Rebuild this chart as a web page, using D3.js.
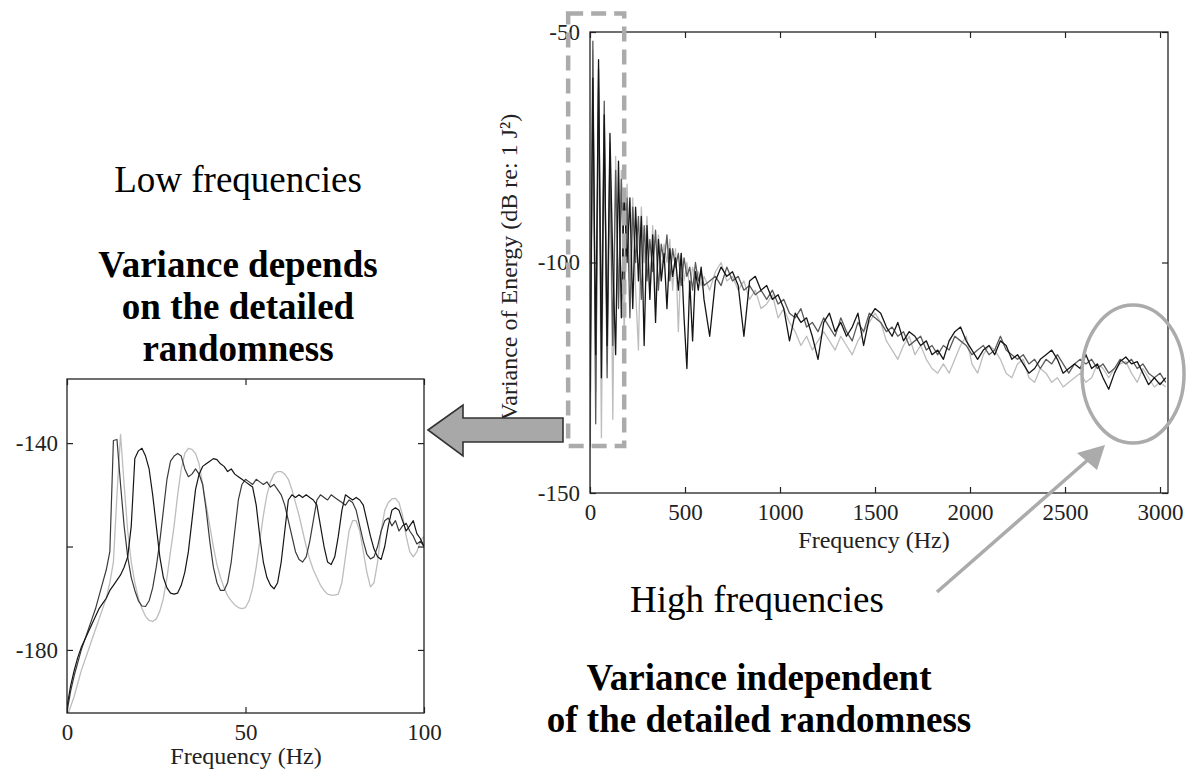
<!DOCTYPE html>
<html>
<head>
<meta charset="utf-8">
<script src="https://cdn.jsdelivr.net/npm/d3@7"></script>
<style>
  body { margin: 0; background: #fff; }
  svg text { font-family: "Liberation Serif", "Times New Roman", serif; }
</style>
</head>
<body>
<svg id="fig" width="1191" height="769"></svg>
<script>
// ---- data: wide band spectrum (0 - 3040 Hz), three realisations ----
var bandLow = d3.range(0, 601, 15),      // 0..600 Hz sampling
    bandHigh = d3.range(630, 3031, 30);  // 630..3030 Hz sampling
var wideHz = bandLow.concat(bandHigh);

var wideBlack = [-128,-60,-120,-56,-125,-68,-118,-72,-100,-120,-78,-112,-84,-100,-86,-110,-88,-104,-90,-118,
  -92,-108,-94,-113,-95,-104,-98,-110,-97,-103,-99,-106,-98,-112,-123,-104,-117,-102,-106,-101,-108,
  -116,-104,-101,-103,-102,-105,-116,-104,-103,-106,
  -105,-108,-107,-110,-117,-111,-113,-112,-116,-121,
  -113,-111,-115,-113,-116,-114,-111,-118,-112,-110,
  -111,-114,-116,-113,-117,-115,-116,-118,-117,-120,
  -119,-121,-117,-115,-114,-117,-119,-121,-119,-118,
  -120,-117,-118,-121,-120,-122,-124,-123,-121,-120,
  -119,-121,-124,-123,-122,-123,-120,-123,-122,-125,
  -127.5,-124,-121.5,-120.5,-122,-121.5,-124,-126.5,-125,-126.5,-125];

var wideDark = [-140,-52,-135,-58,-115,-65,-125,-76,-118,-80,-110,-82,-105,-86,-112,-88,-100,-90,-108,-92,
  -104,-95,-102,-93,-106,-96,-100,-94,-104,-97,-101,-98,-105,-99,-103,-101,-106,-100,-104,-102,-105,
  -104,-103,-105,-101,-104,-103,-106,-105,-107,-106,
  -108,-106,-109,-108,-111,-112,-110,-114,-113,-115,
  -112,-114,-116,-112,-115,-117,-113,-115,-111,-112,
  -113,-115,-114,-116,-115,-118,-117,-116,-119,-118,
  -120,-118,-119,-116,-117,-118,-120,-119,-118,-120,
  -119,-116,-119,-120,-121,-120,-122,-121,-123,-121,
  -122,-120,-122,-124,-122,-121,-122,-121,-123,-122,
  -124,-123,-121,-122,-121,-123,-122,-124,-125,-124,-126];

var wideLight = [-150,-54,-128,-62,-138,-70,-122,-74,-134,-77,-108,-80,-116,-83,-104,-86,-106,-119,-88,-100,
  -90,-108,-92,-110,-94,-102,-96,-100,-95,-106,-97,-115,-98,-104,-100,-106,-101,-103,-102,-105,-103,
  -106,-102,-100,-104,-103,-106,-104,-108,-106,-110,
  -109,-107,-112,-110,-113,-115,-118,-116,-119,-117,
  -115,-117,-119,-116,-118,-120,-117,-115,-113,-111,
  -113,-117,-119,-121,-118,-116,-120,-118,-121,-123,
  -124,-122,-124,-121,-118,-116,-122,-124,-120,-118,
  -119,-121,-124,-125,-122,-121,-125,-126,-123,-124,
  -126,-125,-127,-126,-125,-124,-126,-125,-122,-123,
  -125,-123,-122,-121.5,-124,-126,-123,-125,-127,-126,-127];

// ---- data: zoom on 0 - 100 Hz ----
var zoomHz = d3.range(0, 101, 1);

var zoomDark = [-192,-188,-185,-182.5,-180,-178,-176,-174,-172,-169.5,-167,-164.5,-161,-139.5,-139.3,-148,-156,-162,-166,-168.5,
  -170.5,-171.5,-171.6,-170.5,-168,-164,-159,-153,-147,-143.5,-142.5,-142,-142.5,-145,-146.5,-146,-145,-146,-148,-153,
  -159,-164,-167,-168.5,-168.5,-167,-163,-157,-151,-148,-147,-147.5,-148,-147,-147.5,-148,-147.5,-148.5,-148,-149,
  -150,-152,-155,-158,-161,-162.5,-163,-162,-159,-155,-151,-150,-150.5,-151,-150,-150.5,-151,-151.5,-152,-151,
  -151.5,-153,-156,-159,-161.5,-162.4,-162,-160,-157,-155,-154.5,-156,-155,-157,-156,-155.5,-157,-158,-159.5,-159,-160];

var zoomBlack = [-191,-187,-184,-181.5,-179.5,-178,-176.5,-175,-173.5,-172,-171,-170,-168.5,-167.5,-166.5,-165.5,-164,-162,-156,-143,
  -141.5,-141,-142.5,-145,-150,-156,-162,-166,-168,-169,-169.2,-169,-167.5,-165,-161,-155,-149,-146,-144.5,-144,
  -143.5,-143,-143.2,-144,-144.5,-145.5,-145,-146,-146.5,-147,-147.5,-148,-148.5,-152,-158,-163,-166,-167.5,-168.2,-167,
  -163,-157,-151,-150,-150.5,-150,-150.5,-150,-150.5,-151,-152,-156,-160,-163,-163.5,-162,-158,-153,-150,-150.5,
  -151,-150.5,-151,-152,-155,-158,-160.5,-162,-162.5,-160,-156,-153,-152.5,-153,-155,-157,-156,-155,-157.5,-158.5,-160];

var zoomLight = [-193,-191,-189,-186.5,-184,-182,-180,-178,-176,-174,-172,-170,-167,-163,-150,-138.3,-148,-157,-163,-167,
  -170,-172,-173.5,-174.3,-174.5,-174,-172.5,-170,-166,-161,-156,-150,-145,-142,-141,-141.2,-142,-144,-148,-152,
  -156,-160,-163.5,-166,-168,-169.5,-170.5,-171.3,-171.8,-172,-171.8,-170.5,-168,-164,-159,-154,-150,-147.5,-146,-145.5,
  -145.5,-146,-147,-149,-151.5,-154,-157,-160,-162.5,-164.5,-166,-167.5,-168.5,-169.2,-169.4,-169.4,-169.2,-167,-162,-157,
  -155,-155,-157,-161,-165,-167.8,-167,-163,-157,-153,-151.5,-150.8,-150.7,-151.5,-154,-158,-161,-162,-161,-159,-158];

var wideXTicks = [0, 500, 1000, 1500, 2000, 2500, 3000],
    wideYTicks = [-150, -100, -50],
    zoomXTicks = [0, 50, 100],
    zoomYTicks = [-180, -160, -140],
    zoomYLabels = [-180, -140];

var seriesColors = { black: "#151515", dark: "#5a5a5a", light: "#bdbdbd" };

var svg = d3.select("#fig");

// scales
var xR = d3.scaleLinear().domain([0, 3042]).range([590, 1168]),
    yR = d3.scaleLinear().domain([-150, -50]).range([493, 32]),
    xL = d3.scaleLinear().domain([0, 100]).range([67, 424]),
    yL = d3.scaleLinear().domain([-192.2, -127.6]).range([713, 379]);

// plain hyphen minus, like the original figure
function num(d) { return String(d); }

function panel(id, x, y, hz, series, xTicks, yTicks, yLabels, fs, pad) {
  var g = svg.append("g").attr("class", id);
  var x0 = x.range()[0], x1 = x.range()[1], y0 = y.range()[1], y1 = y.range()[0];

  g.append("clipPath").attr("id", id + "-clip")
    .append("rect").attr("x", x0).attr("y", y0).attr("width", x1 - x0).attr("height", y1 - y0);

  var line = d3.line()
    .x(function(d) { return x(d[0]); })
    .y(function(d) { return y(d[1]); });

  series.forEach(function(s) {
    g.append("path")
      .datum(hz.map(function(f, i) { return [f, s.values[i]]; }))
      .attr("clip-path", "url(#" + id + "-clip)")
      .attr("fill", "none")
      .attr("stroke", s.color)
      .attr("stroke-width", s.width)
      .attr("stroke-linejoin", "round")
      .attr("d", line);
  });

  g.append("rect")
    .attr("x", x0).attr("y", y0).attr("width", x1 - x0).attr("height", y1 - y0)
    .attr("fill", "none").attr("stroke", "#222").attr("stroke-width", 1.3);

  var bottom = g.append("g").attr("transform", "translate(0," + y1 + ")")
    .call(d3.axisBottom(x).tickValues(xTicks).tickSizeInner(-6).tickSizeOuter(0).tickPadding(pad[0]).tickFormat(num));
  var left = g.append("g").attr("transform", "translate(" + x0 + ",0)")
    .call(d3.axisLeft(y).tickValues(yTicks).tickSizeInner(-6).tickSizeOuter(0).tickPadding(pad[1])
      .tickFormat(function(d) { return yLabels.indexOf(d) >= 0 ? num(d) : ""; }));
  var top = g.append("g").attr("transform", "translate(0," + y0 + ")")
    .call(d3.axisTop(x).tickValues(xTicks).tickSizeInner(-6).tickSizeOuter(0).tickFormat(""));
  var right = g.append("g").attr("transform", "translate(" + x1 + ",0)")
    .call(d3.axisRight(y).tickValues(yTicks).tickSizeInner(-6).tickSizeOuter(0).tickFormat(""));

  [bottom, left, top, right].forEach(function(a) {
    a.attr("font-family", null).attr("font-size", fs).attr("color", "#222");
    a.select(".domain").remove();
    a.selectAll("line").attr("stroke-width", 1.2);
  });
  return g;
}

panel("wide", xR, yR, wideHz, [
  { values: wideLight, color: seriesColors.light, width: 1.3 },
  { values: wideDark, color: seriesColors.dark, width: 1.3 },
  { values: wideBlack, color: seriesColors.black, width: 1.3 }
], wideXTicks, wideYTicks, wideYTicks, 23, [11, 10]);

panel("zoom", xL, yL, zoomHz, [
  { values: zoomLight, color: seriesColors.light, width: 1.3 },
  { values: zoomDark, color: "#3a3a3a", width: 1.2 },
  { values: zoomBlack, color: seriesColors.black, width: 1.2 }
], zoomXTicks, zoomYTicks, zoomYLabels, 23, [11, 9]);

// axis titles
svg.append("text").attr("x", 874).attr("y", 548).attr("text-anchor", "middle")
  .attr("font-size", 24).attr("fill", "#222").text("Frequency (Hz)");
svg.append("text").attr("x", 246).attr("y", 764).attr("text-anchor", "middle")
  .attr("font-size", 24).attr("fill", "#222").text("Frequency (Hz)");
svg.append("text")
  .attr("transform", "translate(517," + yR(-101) + ") rotate(-90)")
  .attr("text-anchor", "middle").attr("font-size", 24).attr("fill", "#222")
  .text("Variance of Energy (dB re: 1 J²)");

// annotations
var grey = "#ababab";
svg.append("rect")
  .attr("x", xR(-115)).attr("y", yR(-46)).attr("width", xR(180) - xR(-115)).attr("height", yR(-139.8) - yR(-46))
  .attr("fill", "none").attr("stroke", grey).attr("stroke-width", 4.5).attr("stroke-dasharray", "15,8");

svg.append("ellipse")
  .attr("cx", xR(2858)).attr("cy", yR(-124.2)).attr("rx", 51).attr("ry", 69)
  .attr("fill", "none").attr("stroke", grey).attr("stroke-width", 3.5);

// block arrow toward the zoom panel
svg.append("path")
  .attr("d", "M428,430 L463,405 L463,418 L563,418 L563,442 L463,442 L463,456 Z")
  .attr("fill", "#a8a8a8").attr("stroke", "#333").attr("stroke-width", 1.6);

// thin arrow to the ellipse
svg.append("line").attr("x1", 937).attr("y1", 592).attr("x2", 1090).attr("y2", 458)
  .attr("stroke", grey).attr("stroke-width", 3.5);
svg.append("path").attr("d", "M1105,445 L1097,470 L1077,453 Z").attr("fill", grey);

// captions
function caption(x, y, lines, weight) {
  var t = svg.append("text").attr("text-anchor", "middle").attr("font-size", 37)
    .attr("font-weight", weight).attr("fill", "#000");
  lines.forEach(function(s, i) {
    t.append("tspan").attr("x", x).attr("y", y + i * 42).text(s);
  });
}
caption(238, 192, ["Low frequencies"], "normal");
caption(238, 277, ["Variance depends", "on the detailed", "randomness"], "bold");
caption(757, 612, ["High frequencies"], "normal");
caption(759, 690, ["Variance independent", "of the detailed randomness"], "bold");
</script>
</body>
</html>
